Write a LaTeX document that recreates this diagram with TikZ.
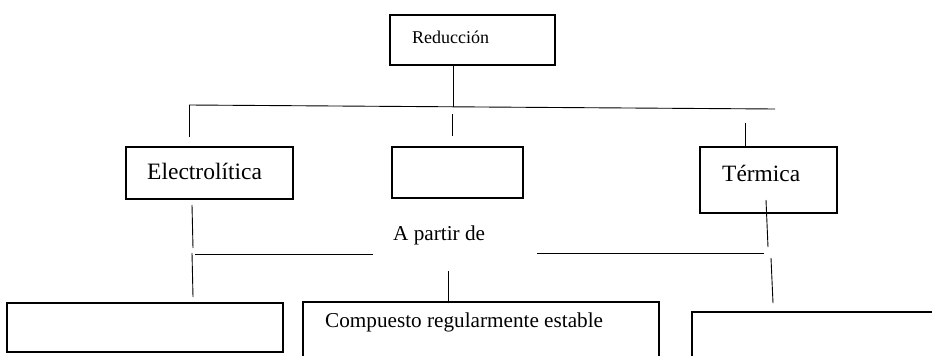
\documentclass[tikz,border=0pt]{standalone}
\usepackage{fontspec}
\setmainfont{Liberation Serif}
\usetikzlibrary{positioning}

\tikzset{
    boxnode/.style={draw, rectangle, line width=1.3pt, inner sep=0pt},
    link/.style={line width=0.9pt},
    lbl/.style={anchor=base west, inner sep=0pt},
}

\begin{document}
\begin{tikzpicture}[x=1pt, y=-1pt]
        % Define dimensions
        \def\picwidth{932}
        \def\picheight{356}
        \useasboundingbox (0,0) rectangle (\picwidth,\picheight);
        \clip (0,0) rectangle (\picwidth,\picheight);
        \fill[white] (0,0) rectangle (\picwidth,\picheight);

        % Boxes
        \node[boxnode, minimum width=165pt, minimum height=50pt] (reduccion) at (472.5,40) {};
        \node[boxnode, minimum width=167pt, minimum height=52pt] (electro) at (209.5,173) {};
        \node[boxnode, minimum width=131pt, minimum height=51pt] (vacio) at (457.5,172.5) {};
        \node[boxnode, minimum width=137pt, minimum height=66pt] (termica) at (768.5,180) {};
        \node[boxnode, minimum width=276pt, minimum height=49pt] (fondoizq) at (145,327.5) {};
        \node[boxnode, minimum width=356pt, minimum height=98pt] (compuesto) at (481,351) {};
        \node[boxnode, line width=1.6pt, minimum width=308pt, minimum height=88pt] (fondoder) at (846,356) {};

        % Texts
        \node[lbl, font=\fontsize{18}{20}\selectfont] (reducciontxt) at (412,43) {Reducción};
        \node[lbl, font=\fontsize{23.5}{26}\selectfont] (electrotxt) at (147,179) {Electrolítica};
        \node[lbl, font=\fontsize{23.4}{26}\selectfont] (termicatxt) at (722,181) {Térmica};
        \node[lbl, font=\fontsize{21.2}{24}\selectfont] (desde) at (393,240) {A partir de};
        \node[lbl, font=\fontsize{21.2}{24}\selectfont] (compuestotxt) at (325,327) {Compuesto regularmente estable};

        % Upper branching
        \coordinate (barL) at (189,105);
        \coordinate (barM) at (453,107);
        \coordinate (barR) at (775,109);
        \draw[link] (reduccion.south -| barM) -- (barM);
        \draw[link] (barL) -- (barR);
        \draw[link] (barL) -- ++(0,32);
        \draw[link] ([xshift=-5.5pt,yshift=32pt]vacio.north) -- ++(0,22);
        \draw[link] ([xshift=-23.5pt]termica.north) -- ++(0,-23);

        % Lower branching
        \coordinate (eA) at (192,205);
        \coordinate (eB) at (193,248);
        \coordinate (eC) at (192,253);
        \coordinate (eD) at (193,297);
        \coordinate (tA) at (766,200);
        \coordinate (tB) at (768,247);
        \coordinate (tC) at (771,258);
        \coordinate (tD) at (773,303);
        \draw[link] (eA) -- (eB);
        \draw[link] (eC) -- (eD);
        \draw[link] (tA) -- (tB);
        \draw[link] (tC) -- (tD);
        \draw[link] (195,254) -- (373,254);
        \draw[link] (537,253) -- (764,253);
        \draw[link] ([xshift=-33pt,yshift=-2pt]compuesto.north) -- ++(0,-32);
    \end{tikzpicture}
\end{document}
